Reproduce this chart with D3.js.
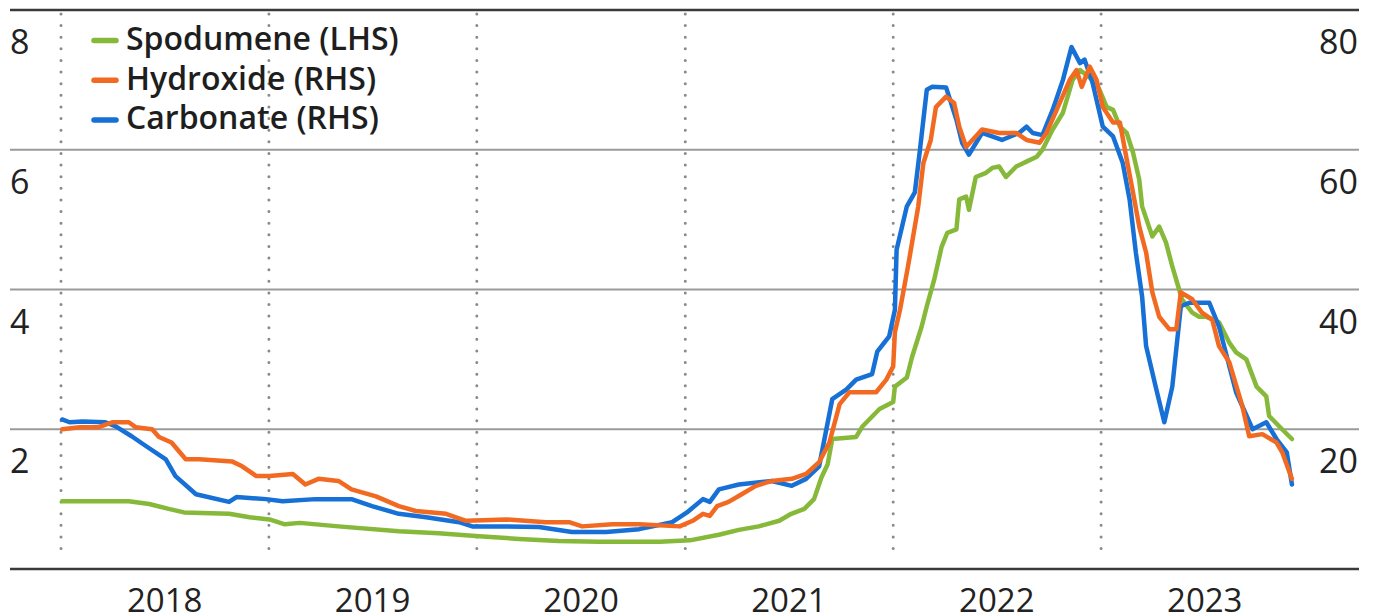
<!DOCTYPE html>
<html>
<head>
<meta charset="utf-8">
<script src="https://cdn.jsdelivr.net/npm/d3@7"></script>
<style>
  html, body { margin: 0; padding: 0; background: #fff; }
  svg { display: block; }
</style>
</head>
<body>
<svg id="chart" width="1377" height="616"></svg>
<script>
// Lithium prices, US$ thousand per tonne
// Spodumene on the left axis, hydroxide and carbonate on the right axis

const spodumene = [
  ["2018-01-03", 0.97], ["2018-04-30", 0.97], ["2018-06-05", 0.93], ["2018-07-09", 0.86],
  ["2018-08-05", 0.81], ["2018-10-23", 0.79], ["2018-11-28", 0.74], ["2019-01-02", 0.71],
  ["2019-01-29", 0.64], ["2019-02-24", 0.66], ["2019-05-03", 0.61], ["2019-08-17", 0.54],
  ["2019-10-26", 0.51], ["2020-01-05", 0.47], ["2020-03-15", 0.43], ["2020-05-24", 0.40],
  ["2020-08-03", 0.39], ["2020-11-17", 0.39], ["2021-01-09", 0.41], ["2021-03-01", 0.49],
  ["2021-04-05", 0.56], ["2021-05-10", 0.61], ["2021-06-15", 0.69], ["2021-07-06", 0.79],
  ["2021-07-29", 0.86], ["2021-08-15", 1.00], ["2021-08-28", 1.31], ["2021-09-08", 1.50],
  ["2021-09-16", 1.86], ["2021-10-28", 1.89], ["2021-11-08", 2.04], ["2021-12-08", 2.29],
  ["2022-01-01", 2.39], ["2022-01-04", 2.61], ["2022-01-25", 2.74], ["2022-02-03", 3.03],
  ["2022-02-20", 3.47], ["2022-03-01", 3.76], ["2022-03-14", 4.14], ["2022-03-27", 4.61],
  ["2022-04-06", 4.81], ["2022-04-22", 4.86], ["2022-04-27", 5.29], ["2022-05-09", 5.33],
  ["2022-05-14", 5.14], ["2022-05-26", 5.61], ["2022-06-13", 5.67], ["2022-06-24", 5.74],
  ["2022-07-06", 5.76], ["2022-07-18", 5.61], ["2022-08-05", 5.76], ["2022-08-23", 5.83],
  ["2022-09-10", 5.90], ["2022-09-20", 6.00], ["2022-10-08", 6.29], ["2022-10-26", 6.53],
  ["2022-11-12", 7.00], ["2022-11-25", 7.14], ["2022-12-17", 7.00], ["2022-12-29", 6.86],
  ["2023-01-11", 6.61], ["2023-01-22", 6.57], ["2023-02-03", 6.33], ["2023-02-15", 6.24],
  ["2023-02-26", 5.96], ["2023-03-09", 5.57], ["2023-03-14", 5.19], ["2023-03-26", 4.90],
  ["2023-04-01", 4.76], ["2023-04-13", 4.90], ["2023-04-25", 4.67], ["2023-05-06", 4.33],
  ["2023-05-18", 4.00], ["2023-05-23", 3.86], ["2023-06-10", 3.67], ["2023-06-22", 3.61],
  ["2023-07-04", 3.61], ["2023-07-27", 3.53], ["2023-08-14", 3.24], ["2023-08-26", 3.10],
  ["2023-09-13", 3.00], ["2023-10-01", 2.61], ["2023-10-18", 2.47], ["2023-10-23", 2.19],
  ["2023-11-10", 2.04], ["2023-12-02", 1.86]
];

const hydroxide = [
  ["2018-01-03", 20.0], ["2018-02-03", 20.3], ["2018-03-08", 20.3], ["2018-04-01", 21.0],
  ["2018-04-30", 21.0], ["2018-05-12", 20.3], ["2018-06-10", 20.0], ["2018-06-22", 18.9],
  ["2018-07-14", 18.1], ["2018-08-08", 15.7], ["2018-09-01", 15.7], ["2018-10-28", 15.4],
  ["2018-11-15", 14.7], ["2018-12-10", 13.3], ["2019-01-02", 13.3], ["2019-02-12", 13.6],
  ["2019-03-06", 12.1], ["2019-03-29", 12.9], ["2019-05-03", 12.6], ["2019-05-26", 11.4],
  ["2019-07-08", 10.4], ["2019-08-17", 9.0], ["2019-09-16", 8.3], ["2019-11-08", 7.9],
  ["2019-12-13", 6.9], ["2020-02-22", 7.1], ["2020-05-01", 6.7], ["2020-06-11", 6.7],
  ["2020-07-04", 6.1], ["2020-08-26", 6.4], ["2020-10-12", 6.4], ["2020-12-22", 6.1],
  ["2021-01-14", 6.9], ["2021-02-01", 7.9], ["2021-02-13", 7.6], ["2021-02-26", 9.0],
  ["2021-03-18", 9.6], ["2021-04-10", 10.7], ["2021-05-05", 11.9], ["2021-06-02", 12.6],
  ["2021-07-07", 12.9], ["2021-08-01", 13.6], ["2021-08-24", 15.3], ["2021-09-11", 18.1],
  ["2021-09-29", 23.6], ["2021-10-16", 25.3], ["2021-12-02", 25.3], ["2021-12-20", 27.1],
  ["2022-01-01", 29.0], ["2022-01-04", 33.9], ["2022-01-13", 37.1], ["2022-01-27", 43.3],
  ["2022-02-14", 51.9], ["2022-02-23", 58.1], ["2022-03-08", 61.4], ["2022-03-17", 66.1],
  ["2022-04-04", 67.6], ["2022-04-18", 66.7], ["2022-04-27", 63.3], ["2022-05-09", 60.4],
  ["2022-06-06", 62.9], ["2022-07-06", 62.4], ["2022-08-05", 62.4], ["2022-08-23", 61.4],
  ["2022-09-15", 61.0], ["2022-09-27", 62.4], ["2022-10-15", 65.7], ["2022-11-07", 70.0],
  ["2022-11-19", 71.4], ["2022-11-28", 69.0], ["2022-12-12", 71.9], ["2022-12-24", 70.0],
  ["2023-01-04", 66.1], ["2023-01-22", 63.9], ["2023-02-03", 63.9], ["2023-02-15", 58.6],
  ["2023-02-26", 53.9], ["2023-03-09", 49.0], ["2023-03-21", 45.3], ["2023-04-01", 39.6],
  ["2023-04-13", 36.1], ["2023-05-01", 34.3], ["2023-05-13", 34.3], ["2023-05-21", 39.6],
  ["2023-06-10", 38.6], ["2023-06-27", 36.7], ["2023-07-15", 35.7], ["2023-07-27", 31.9],
  ["2023-08-14", 29.6], ["2023-09-06", 23.3], ["2023-09-18", 19.0], ["2023-10-11", 19.3],
  ["2023-11-05", 18.1], ["2023-11-15", 16.7], ["2023-12-02", 12.9]
];

const carbonate = [
  ["2018-01-03", 21.4], ["2018-01-16", 21.0], ["2018-02-08", 21.1], ["2018-03-20", 21.0],
  ["2018-04-07", 20.4], ["2018-05-05", 19.0], ["2018-05-30", 17.6], ["2018-07-04", 15.7],
  ["2018-07-21", 13.3], ["2018-08-26", 10.7], ["2018-10-23", 9.6], ["2018-11-05", 10.3],
  ["2018-12-27", 10.0], ["2019-01-25", 9.7], ["2019-03-24", 10.0], ["2019-05-26", 10.0],
  ["2019-07-01", 9.0], ["2019-08-17", 7.9], ["2019-10-04", 7.4], ["2019-12-01", 6.7],
  ["2019-12-24", 6.1], ["2020-02-22", 6.1], ["2020-04-19", 6.0], ["2020-06-16", 5.3],
  ["2020-08-15", 5.3], ["2020-10-12", 5.7], ["2020-12-09", 6.7], ["2021-01-04", 8.1],
  ["2021-02-01", 10.0], ["2021-02-13", 9.6], ["2021-03-01", 11.4], ["2021-04-05", 12.1],
  ["2021-06-02", 12.6], ["2021-07-07", 11.9], ["2021-08-01", 12.9], ["2021-08-24", 14.7],
  ["2021-09-16", 24.3], ["2021-10-11", 25.7], ["2021-10-28", 27.1], ["2021-11-25", 27.9],
  ["2021-12-04", 31.1], ["2021-12-25", 33.3], ["2022-01-04", 37.1], ["2022-01-07", 45.7],
  ["2022-01-25", 51.9], ["2022-02-08", 53.9], ["2022-02-17", 60.0], ["2022-03-01", 68.6],
  ["2022-03-10", 69.0], ["2022-04-04", 68.9], ["2022-04-22", 64.3], ["2022-05-02", 61.0],
  ["2022-05-14", 59.3], ["2022-06-06", 62.4], ["2022-07-11", 61.4], ["2022-08-10", 62.4],
  ["2022-08-23", 63.3], ["2022-09-03", 62.4], ["2022-09-20", 62.1], ["2022-10-08", 65.7],
  ["2022-10-26", 70.0], ["2022-11-10", 74.7], ["2022-11-25", 72.4], ["2022-12-03", 72.9],
  ["2022-12-17", 69.6], ["2023-01-04", 63.3], ["2023-01-22", 61.9], ["2023-02-08", 58.1],
  ["2023-02-20", 52.9], ["2023-03-03", 45.3], ["2023-03-14", 39.0], ["2023-03-21", 31.9],
  ["2023-04-08", 25.7], ["2023-04-22", 21.0], ["2023-05-06", 26.1], ["2023-05-21", 37.6],
  ["2023-06-05", 38.1], ["2023-07-10", 38.1], ["2023-07-27", 34.7], ["2023-08-26", 25.3],
  ["2023-09-24", 20.0], ["2023-10-18", 21.0], ["2023-11-05", 18.6], ["2023-11-23", 16.7],
  ["2023-12-02", 12.1]
];

const years = ["2018", "2019", "2020", "2021", "2022", "2023"];
const leftTicks = [2, 4, 6, 8];
const rightTicks = [20, 40, 60, 80];
const legendItems = [
  { name: "Spodumene (LHS)", color: "#86b83a" },
  { name: "Hydroxide (RHS)", color: "#f26a22" },
  { name: "Carbonate (RHS)", color: "#1670d6" }
];

const svg = d3.select("#chart");
const parse = d3.timeParse("%Y-%m-%d");

const x = d3.scaleTime()
  .domain([parse("2018-01-01"), parse("2024-01-01")])
  .range([61, 1309]);
const yLeft = d3.scaleLinear().domain([0, 8]).range([569, 10]);
const yRight = d3.scaleLinear().domain([0, 80]).range([569, 10]);

const FONT = "'Open Sans', Roboto, sans-serif";
const gridLeft = 10, gridRight = 1359;

// horizontal grid lines
const grid = svg.append("g");
grid.selectAll("line.grid")
  .data(leftTicks.filter(t => t < 8))
  .join("line")
  .attr("x1", gridLeft).attr("x2", gridRight)
  .attr("y1", d => yLeft(d)).attr("y2", d => yLeft(d))
  .attr("stroke", "#9a9a9a").attr("stroke-width", 2);
// top and baseline rules
grid.selectAll("line.rule")
  .data([8, 0])
  .join("line")
  .attr("x1", gridLeft).attr("x2", gridRight)
  .attr("y1", d => yLeft(d)).attr("y2", d => yLeft(d))
  .attr("stroke", "#3a3a3a").attr("stroke-width", 2.5);

// dotted year dividers
const yearStarts = years.map(yv => parse(yv + "-01-01"));
svg.append("g").selectAll("line")
  .data(yearStarts)
  .join("line")
  .attr("x1", d => x(d)).attr("x2", d => x(d))
  .attr("y1", 14).attr("y2", 560)
  .attr("stroke", "#8a8a8a").attr("stroke-width", 3)
  .attr("stroke-linecap", "round")
  .attr("stroke-dasharray", "0 11.62");

// axis labels
svg.append("g").selectAll("text")
  .data(leftTicks)
  .join("text")
  .attr("x", 10).attr("y", d => yLeft(d) + 44)
  .attr("font-family", FONT).attr("font-size", 34).attr("font-weight", 400)
  .attr("fill", "#222")
  .text(d => d);

svg.append("g").selectAll("text")
  .data(rightTicks)
  .join("text")
  .attr("x", 1358).attr("y", d => yRight(d) + 44)
  .attr("text-anchor", "end")
  .attr("font-family", FONT).attr("font-size", 34).attr("font-weight", 400)
  .attr("fill", "#222")
  .text(d => d);

svg.append("g").selectAll("text")
  .data(years)
  .join("text")
  .attr("x", d => x(parse(d + "-07-02")))
  .attr("y", 612)
  .attr("text-anchor", "middle")
  .attr("font-family", FONT).attr("font-size", 33).attr("font-weight", 400)
  .attr("fill", "#222")
  .text(d => d);

// price lines
const lineLeft = d3.line().x(d => x(parse(d[0]))).y(d => yLeft(d[1]));
const lineRight = d3.line().x(d => x(parse(d[0]))).y(d => yRight(d[1]));

const series = [
  { data: spodumene, gen: lineLeft, color: legendItems[0].color },
  { data: carbonate, gen: lineRight, color: legendItems[2].color },
  { data: hydroxide, gen: lineRight, color: legendItems[1].color }
];
svg.append("g").selectAll("path")
  .data(series)
  .join("path")
  .attr("d", s => s.gen(s.data))
  .attr("fill", "none")
  .attr("stroke", s => s.color)
  .attr("stroke-width", 4.5)
  .attr("stroke-linejoin", "round")
  .attr("stroke-linecap", "round");

// legend
const legend = svg.append("g");
const items = legend.selectAll("g")
  .data(legendItems)
  .join("g")
  .attr("transform", (d, i) => `translate(0, ${40.5 + i * 39.7})`);
items.append("line")
  .attr("x1", 94).attr("x2", 116)
  .attr("y1", 0).attr("y2", 0)
  .attr("stroke", d => d.color).attr("stroke-width", 5.5)
  .attr("stroke-linecap", "round");
items.append("text")
  .attr("x", 126).attr("y", 9.5)
  .attr("font-family", FONT).attr("font-size", 32).attr("font-weight", 600)
  .attr("fill", "#1e1e1e")
  .text(d => d.name);
</script>
</body>
</html>
